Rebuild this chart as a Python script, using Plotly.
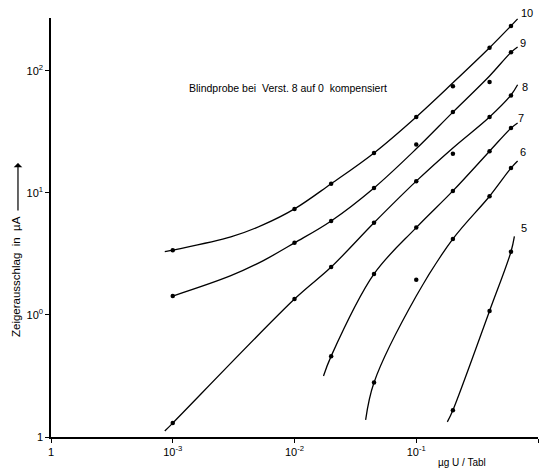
import plotly.graph_objects as go

# Measured points (µg U per tablet vs. pointer deflection in µA), one list per amplifier step
x_all = [0.001, 0.01, 0.02, 0.045, 0.1, 0.2, 0.4, 0.6]
y_10 = [3.4, 7.4, 11.9, 21.3, 42, 75, 155, 234]
y_9 = [1.43, 3.9, 5.9, 11.0, 25, 46, 81, 142]
y_8 = [0.13, 1.35, 2.47, 5.7, 12.5, 21, 42, 63]
x_7 = [0.02, 0.045, 0.1, 0.2, 0.4, 0.6]
y_7 = [0.46, 2.17, 5.2, 10.4, 22, 34]
x_6 = [0.045, 0.1, 0.2, 0.4, 0.6]
y_6 = [0.28, 1.94, 4.2, 9.4, 16]
x_5 = [0.2, 0.4, 0.6]
y_5 = [0.166, 1.08, 3.3]

# Hand-drawn calibration curves (nodes along each drawn line)
cx_10 = [0.00086, 0.001, 0.003, 0.0055, 0.01, 0.02, 0.045, 0.1, 0.2, 0.4, 0.6, 0.68]
cy_10 = [3.3, 3.4, 4.36, 5.47, 7.4, 11.9, 21.3, 42, 80, 155, 234, 267]
cx_9 = [0.001, 0.003, 0.0055, 0.01, 0.02, 0.045, 0.1, 0.2, 0.4, 0.6, 0.68]
cy_9 = [1.43, 2.1, 2.78, 3.9, 5.9, 11.0, 23, 46, 91, 142, 157]
cx_8 = [0.00086, 0.001, 0.01, 0.02, 0.045, 0.1, 0.2, 0.4, 0.6, 0.68]
cy_8 = [0.112, 0.13, 1.35, 2.47, 5.7, 12.5, 23.4, 42, 63.5, 77]
cx_7 = [0.0173, 0.02, 0.045, 0.1, 0.2, 0.4, 0.6, 0.68]
cy_7 = [0.316, 0.46, 2.17, 5.2, 10.4, 22, 34, 37.5]
cx_6 = [0.0384, 0.045, 0.1, 0.2, 0.4, 0.6, 0.68]
cy_6 = [0.138, 0.28, 1.43, 4.2, 9.4, 16, 18.3]
cx_5 = [0.18, 0.2, 0.4, 0.6, 0.64]
cy_5 = [0.133, 0.166, 1.08, 3.3, 4.4]

# Curve names and where they are written (paper coordinates)
curve_names = ["10", "9", "8", "7", "6", "5"]
name_px = [0.977, 0.969, 0.973, 0.965, 0.969, 0.971]
name_py = [1.012, 0.940, 0.835, 0.761, 0.680, 0.499]

x_tickvals = [1e-4, 1e-3, 1e-2, 1e-1, 1]
x_ticktext = ["1", "10<sup>-3</sup>", "10<sup>-2</sup>", "10<sup>-1</sup>",
              "10<sup>0</sup>\u00a0\u00a0\u00a0"]
y_tickvals = [0.1, 1, 10, 100]
y_ticktext = ["1", "10<sup>0</sup>", "10<sup>1</sup>", "10<sup>2</sup>"]

FONT = "Liberation Sans"
INK = "#000000"

fig = go.Figure()

curves = [(cx_10, cy_10), (cx_9, cy_9), (cx_8, cy_8),
          (cx_7, cy_7), (cx_6, cy_6), (cx_5, cy_5)]
for cx, cy in curves:
    fig.add_trace(go.Scatter(x=cx, y=cy, mode="lines",
                             line=dict(color=INK, width=1.3, shape="spline", smoothing=1.0),
                             hoverinfo="skip", showlegend=False))

points = [(x_all, y_10), (x_all, y_9), (x_all, y_8),
          (x_7, y_7), (x_6, y_6), (x_5, y_5)]
for px, py in points:
    fig.add_trace(go.Scatter(x=px, y=py, mode="markers",
                             marker=dict(color=INK, size=4.5),
                             showlegend=False))

annotations = []
for name, ax_, ay_ in zip(curve_names, name_px, name_py):
    annotations.append(dict(text=name, x=ax_, y=ay_, xref="paper", yref="paper",
                            showarrow=False, font=dict(family=FONT, size=11, color=INK),
                            xanchor="center", yanchor="middle"))

annotations.append(dict(text="Blindprobe bei  Verst. 8 auf 0  kompensiert",
                        x=0.487, y=0.833, xref="paper", yref="paper", showarrow=False,
                        font=dict(family=FONT, size=10.5, color=INK),
                        xanchor="center", yanchor="middle"))
annotations.append(dict(text="µg U / Tabl", x=0.844, y=-0.062, xref="paper", yref="paper",
                        showarrow=False, font=dict(family=FONT, size=10, color=INK),
                        xanchor="center", yanchor="middle"))
annotations.append(dict(text="Zeigerausschlag  in  µA", x=-0.072, y=0.384,
                        xref="paper", yref="paper", showarrow=False, textangle=-90,
                        font=dict(family=FONT, size=11.5, color=INK),
                        xanchor="center", yanchor="middle"))
# upward arrow beside the axis title
annotations.append(dict(text="", x=-0.0678, y=0.654, xref="paper", yref="paper",
                        showarrow=True, ax=0, ay=49, arrowhead=1, arrowsize=1.2,
                        arrowwidth=1.2, arrowcolor=INK))

fig.update_layout(
    width=540, height=473,
    margin=dict(l=51, r=2, t=18, b=36),
    paper_bgcolor="white", plot_bgcolor="white",
    showlegend=False,
    annotations=annotations,
    xaxis=dict(type="log", range=[-4, 0], showgrid=False, zeroline=False,
               showline=True, linecolor=INK, linewidth=1.5,
               ticks="outside", ticklen=4, tickcolor=INK, tickwidth=1,
               tickvals=x_tickvals, ticktext=x_ticktext,
               tickfont=dict(family=FONT, size=11, color=INK)),
    yaxis=dict(type="log", range=[-1, 2.434], showgrid=False, zeroline=False,
               showline=True, linecolor=INK, linewidth=1.5,
               ticks="outside", ticklen=4, tickcolor=INK, tickwidth=1,
               tickvals=y_tickvals, ticktext=y_ticktext,
               tickfont=dict(family=FONT, size=11, color=INK)),
)

fig.write_html("out.html")
